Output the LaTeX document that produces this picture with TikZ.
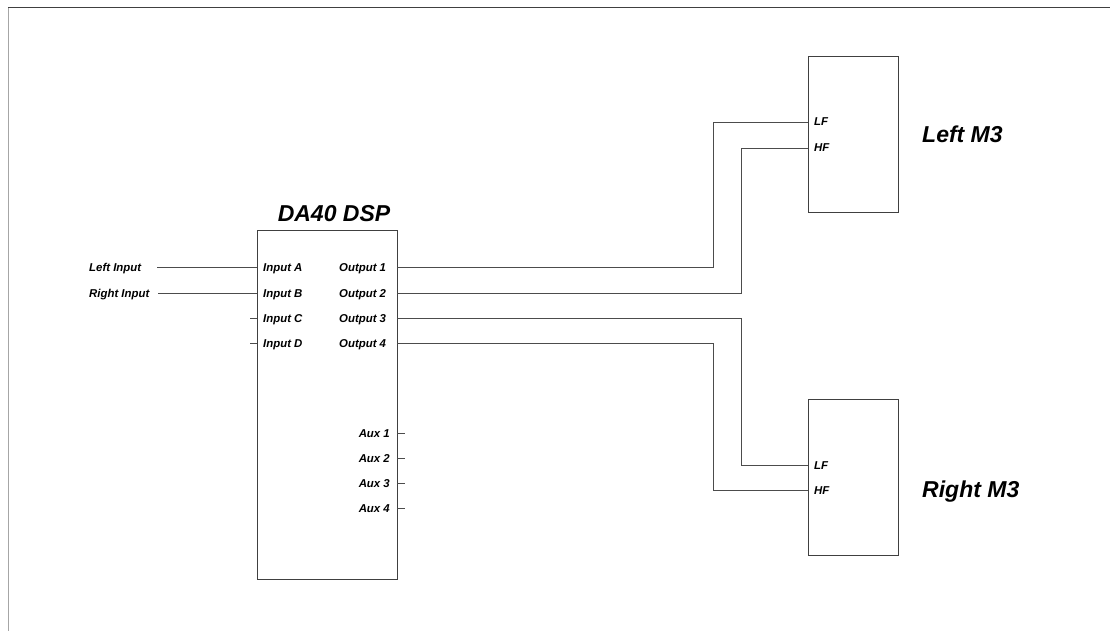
\documentclass[tikz,border=0pt]{standalone}
\usepackage{fontspec}
\setmainfont{Liberation Sans}
\usepackage{tikz}
\usetikzlibrary{positioning}
\newcommand{\lblfont}{\fontsize{11.4}{12}\selectfont\bfseries\itshape}
\newcommand{\ttlfont}{\fontsize{23}{25}\selectfont\bfseries\itshape}
\tikzset{
  wire/.style={draw=black!70, line width=0.8pt},
  unitbox/.style={draw=black!75, line width=0.8pt, anchor=north west, inner sep=0pt},
  lbl/.style={font=\lblfont, inner sep=0pt, text height=8pt, text depth=0pt},
  ttl/.style={font=\ttlfont, inner sep=0pt}
}
\begin{document}
\begin{tikzpicture}[x=1pt, y=-1pt]
    \useasboundingbox (0,0) rectangle (1110,631);
    
    % frame
    \draw[black!35, line width=1pt] (8,631) -- (8,8);
    \draw[black!75, line width=1pt] (8,8) -- (1110,8);
    
    % processor
    \node[unitbox, minimum width=140pt, minimum height=349pt] (dsp) at (257,230) {};
    \node[ttl] (dsptitle) at (334,214) {DA40 DSP};
    
    \foreach \y/\n in {267/A,293/B,318/C,343/D} {
        \coordinate (in\n) at (257,\y);
        \node[lbl, anchor=west] (lblin\n) at (263,\y) {Input \n};
    }
    \foreach \y/\n in {267/1,293/2,318/3,343/4} {
        \coordinate (out\n) at (397,\y);
        \node[lbl, anchor=west] (lblout\n) at (339,\y) {Output \n};
    }
    \foreach \y/\n in {433/1,458/2,483/3,508/4} {
        \coordinate (aux\n) at (397,\y);
        \coordinate (auxend\n) at (405,\y);
        \node[lbl, anchor=east] (lblaux\n) at (390,\y) {Aux \n};
        \draw[wire] (aux\n) -- (auxend\n);
    }
    
    % sources
    \node[lbl, anchor=west] (srcleft) at (89,267) {Left Input};
    \node[lbl, anchor=west] (srcright) at (89,293) {Right Input};
    \coordinate (srcleftend) at (157,267);
    \coordinate (srcrightend) at (158,293);
    \coordinate (stubC) at (250,318);
    \coordinate (stubD) at (250,343);
    \draw[wire] (srcleftend) -- (inA);
    \draw[wire] (srcrightend) -- (inB);
    \draw[wire] (stubC) -- (inC);
    \draw[wire] (stubD) -- (inD);
    
    % speakers
    \node[unitbox, minimum width=90pt, minimum height=156pt] (leftspk) at (808,56) {};
    \node[unitbox, minimum width=90pt, minimum height=156pt] (rightspk) at (808,399) {};
    \node[ttl, anchor=west] (leftname) at (922,134) {Left M3};
    \node[ttl, anchor=west] (rightname) at (922,492) {Right M3};
    
    \coordinate (leftLF) at (808,122);
    \coordinate (leftHF) at (808,148);
    \coordinate (rightLF) at (808,465);
    \coordinate (rightHF) at (808,490);
    \node[lbl, anchor=west] (lblleftLF) at (814,122) {LF};
    \node[lbl, anchor=west] (lblleftHF) at (814,148) {HF};
    \node[lbl, anchor=west] (lblrightLF) at (814,465) {LF};
    \node[lbl, anchor=west] (lblrightHF) at (814,490) {HF};
    
    \draw[wire] (out1) -- ++(316,0) |- (leftLF);
    \draw[wire] (out2) -- ++(344,0) |- (leftHF);
    \draw[wire] (out3) -- ++(344,0) |- (rightLF);
    \draw[wire] (out4) -- ++(316,0) |- (rightHF);
\end{tikzpicture}
\end{document}
